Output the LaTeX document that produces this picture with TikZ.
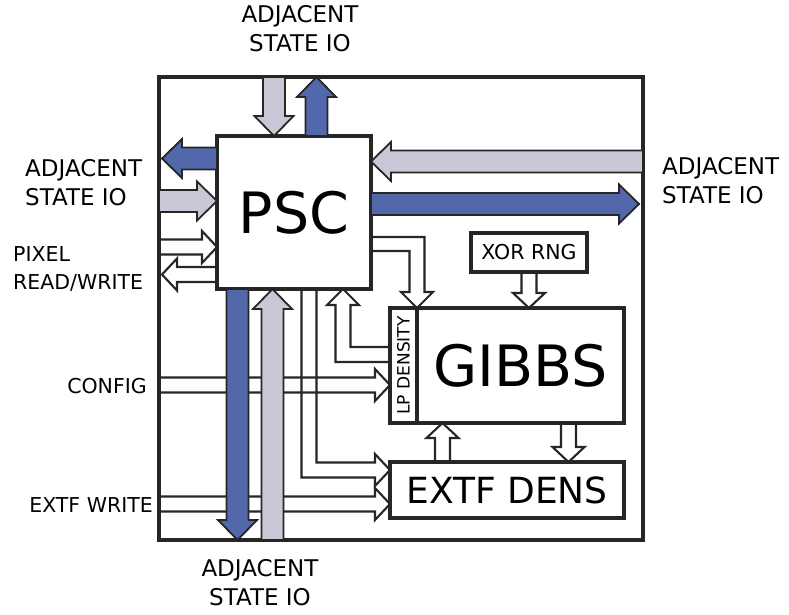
\documentclass[tikz,border=0pt]{standalone}
\usepackage{fontspec}
\setmainfont{DejaVu Sans}
\usepackage{tikz}
\usetikzlibrary{calc}
\definecolor{pscblue}{RGB}{82,104,170}
\definecolor{pscgray}{RGB}{202,199,214}

% outlined arrow: style, from, to, half shaft, half head, head length
\newcommand{\arrowshape}[6]{%
  \coordinate (hb) at ($(#3)!#6!(#2)$);
  \draw[#1] ($(#2)!#4!90:(#3)$) -- ($(hb)!#4!-90:(#2)$) -- ($(hb)!#5!-90:(#2)$) -- (#3)
    -- ($(hb)!#5!90:(#2)$) -- ($(hb)!#4!90:(#2)$) -- ($(#2)!#4!-90:(#3)$) -- cycle;}
\newcommand{\bigarrow}[3]{\arrowshape{#1}{#2}{#3}{11pt}{19.5pt}{20pt}}
\newcommand{\slimarrow}[2]{\arrowshape{slim}{#1}{#2}{7.5pt}{16pt}{15pt}}

\begin{document}
\begin{tikzpicture}[x=1pt, y=-1pt,
  box/.style={draw=black!85, line width=3.2pt, inner sep=0pt, outer sep=0pt},
  lbl/.style={inner sep=0pt, align=left, font=\fontsize{20.5}{28}\selectfont},
  iolbl/.style={inner sep=0pt, font=\fontsize{23}{29}\selectfont},
  slim/.style={draw=black!85, line width=2.1pt, line join=miter},
  bigblue/.style={draw=black!85, fill=pscblue, line width=1.8pt, line join=miter},
  biggray/.style={draw=black!85, fill=pscgray, line width=1.8pt, line join=miter}]

  \fill[white] (0,0) rectangle (789,615);
  \useasboundingbox (0,0) rectangle (789,615);

  % blocks
  \node[box, minimum width=484pt, minimum height=463pt] (frame) at (401,308.5) {};
  \node[box, minimum width=154pt, minimum height=153pt, font=\fontsize{57}{60}\selectfont] (psc) at (294,212.5) {PSC};
  \node[box, minimum width=116pt, minimum height=39pt, font=\fontsize{20.5}{24}\selectfont] (xor) at (529,252.5) {XOR RNG};
  \node[box, minimum width=27pt, minimum height=115pt] (lp) at (403.5,365.5) {};
  \node[rotate=90, inner sep=0pt, font=\fontsize{17}{20}\selectfont] (lptext) at (lp) {LP DENSITY};
  \node[box, minimum width=207pt, minimum height=115pt, font=\fontsize{57}{60}\selectfont] (gibbs) at (520.5,365.5) {GIBBS};
  \node[box, minimum width=234pt, minimum height=56pt, font=\fontsize{36}{40}\selectfont] (extf) at (507,490) {EXTF DENS};

  % labels
  \node[iolbl, align=center, anchor=north] (iotop) at (300,5) {ADJACENT\\STATE IO};
  \node[iolbl, align=left, anchor=north west] (ioleft) at (25,159) {ADJACENT\\STATE IO};
  \node[iolbl, align=left, anchor=north west] (ioright) at (662,157) {ADJACENT\\STATE IO};
  \node[iolbl, align=center, anchor=north] (iobot) at (260,559) {ADJACENT\\STATE IO};
  \node[lbl, anchor=north west] (pixel) at (13,246) {PIXEL\\READ/WRITE};
  \node[lbl, anchor=east] (config) at (147,386.5) {CONFIG};
  \node[lbl, anchor=east] (extfw) at (153,505) {EXTF WRITE};

  % thin outlined arrows
  \coordinate (pxa) at (frame.west |- 0,247);
  \coordinate (pxb) at (psc.west |- 0,247);
  \slimarrow{pxa}{pxb}
  \coordinate (pwa) at (psc.west |- 0,274.5);
  \coordinate (pwb) at ($(frame.west |- 0,274.5)+(3,0)$);
  \slimarrow{pwa}{pwb}
  \coordinate (cfa) at (frame.west |- 0,385);
  \coordinate (cfb) at (lp.west |- 0,385);
  \slimarrow{cfa}{cfb}
  \coordinate (ewa) at (frame.west |- 0,504);
  \coordinate (ewb) at (extf.west |- 0,504);
  \slimarrow{ewa}{ewb}
  \coordinate (xra) at (xor.south);
  \coordinate (xrb) at (xor.south |- gibbs.north);
  \slimarrow{xra}{xrb}
  \coordinate (gda) at (568.5,0 |- gibbs.south);
  \coordinate (gdb) at (568.5,0 |- extf.north);
  \slimarrow{gda}{gdb}
  \coordinate (gua) at (442.5,0 |- extf.north);
  \coordinate (gub) at (442.5,0 |- gibbs.south);
  \slimarrow{gua}{gub}

  % elbows
  \draw[slim] (psc.east |- 0,237) -- (424.5,237) -- (424.5,292) -- (433,292) -- (lp.north east)
    -- (401,292) -- (409.5,292) -- (409.5,251) -- (psc.east |- 0,251);
  \draw[slim] (lp.west |- 0,362) -- (335.5,362) -- (335.5,305) -- (327,305) -- (343,0 |- psc.south)
    -- (359,305) -- (350.5,305) -- (350.5,347) -- (lp.west |- 0,347);
  \draw[slim] (301.5,0 |- psc.south) -- (301.5,477.5) -- (375,477.5) -- (375,486) -- (extf.west |- 0,470)
    -- (375,454) -- (375,462.5) -- (316.5,462.5) -- (316.5,0 |- psc.south);

  % adjacent state io
  \coordinate (ta) at (274,0 |- frame.north);
  \coordinate (tb) at (274,0 |- psc.north);
  \bigarrow{biggray}{ta}{tb}
  \coordinate (tc) at (316.5,0 |- psc.north);
  \coordinate (td) at (316.5,0 |- frame.north);
  \bigarrow{bigblue}{tc}{td}
  \coordinate (la) at (psc.west |- 0,158.5);
  \coordinate (lb) at ($(frame.west |- 0,158.5)+(3,0)$);
  \bigarrow{bigblue}{la}{lb}
  \coordinate (lc) at (frame.west |- 0,201);
  \coordinate (ld) at (psc.west |- 0,201);
  \bigarrow{biggray}{lc}{ld}
  \coordinate (ra) at (frame.east |- 0,161.5);
  \coordinate (rb) at (psc.east |- 0,161.5);
  \bigarrow{biggray}{ra}{rb}
  \coordinate (rc) at (psc.east |- 0,204);
  \coordinate (rd) at ($(frame.east |- 0,204)+(-4,0)$);
  \bigarrow{bigblue}{rc}{rd}
  \coordinate (ba) at (237.5,0 |- psc.south);
  \coordinate (bb) at (237.5,0 |- frame.south);
  \bigarrow{bigblue}{ba}{bb}
  \coordinate (bc) at (272.5,0 |- frame.south);
  \coordinate (bd) at (272.5,0 |- psc.south);
  \bigarrow{biggray}{bc}{bd}
\end{tikzpicture}
\end{document}
